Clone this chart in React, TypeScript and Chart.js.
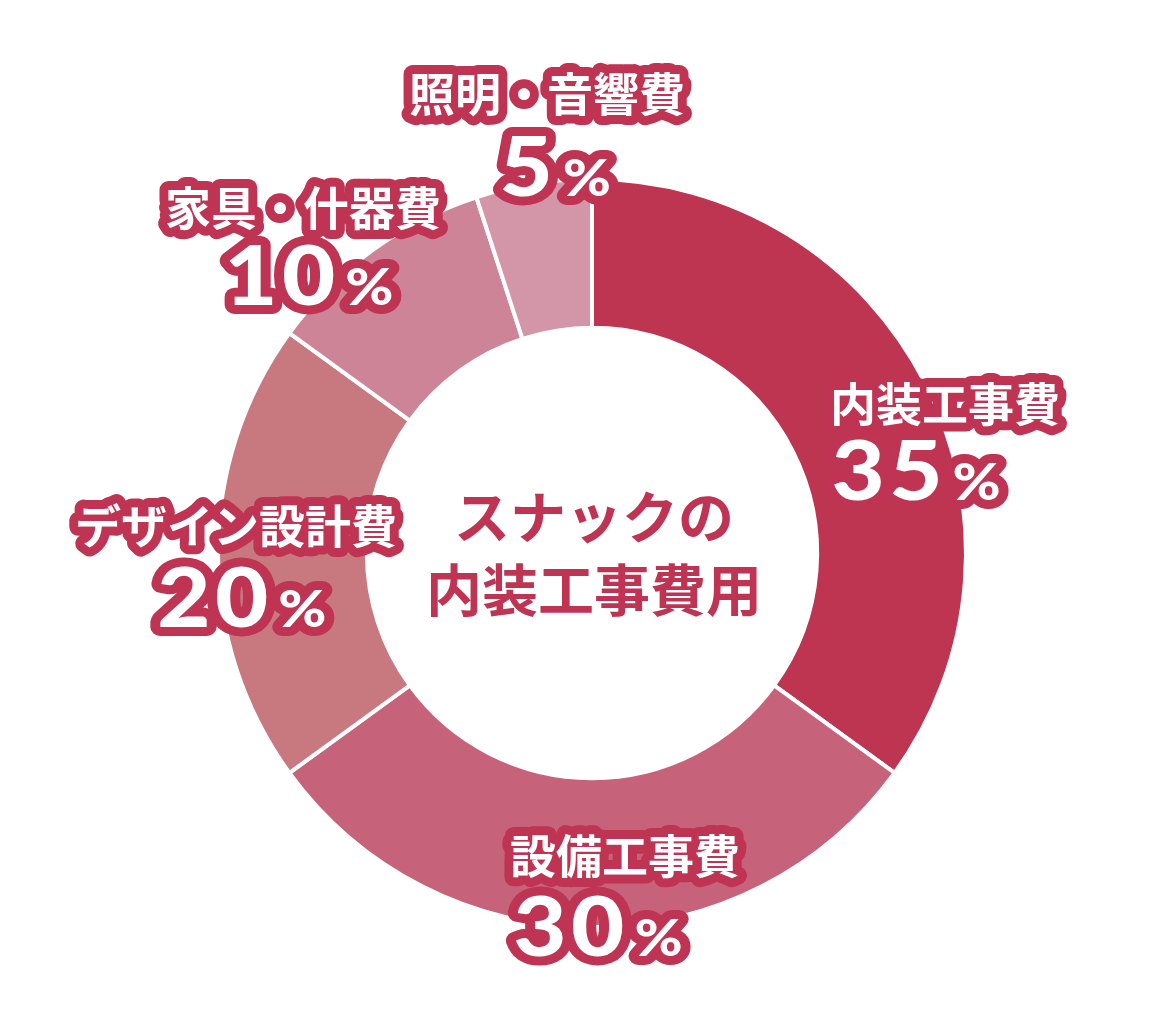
import { useEffect, useRef } from 'react';
import { Chart, ArcElement, DoughnutController } from 'chart.js';

Chart.register(ArcElement, DoughnutController);

// ---- data ----
const categories = ['内装工事費', '設備工事費', 'デザイン設計費', '家具・什器費', '照明・音響費'];
const values = [35, 30, 20, 10, 5];
const centerTitle = ['スナックの', '内装工事費用'];

// ---- styles / layout ----
const segmentColors = ['#BD3550', '#C6637B', '#C8787F', '#CE8497', '#D396A8'];
const accent = '#BE3452';
// label anchor offsets relative to the doughnut centre, in units of the outer radius
const labelLayout = [
  { tx: 0.949, ty: -0.403, px: 0.871, py: -0.19 },
  { tx: 0.089, ty: 0.812, px: 0.016, py: 1.036 },
  { tx: -0.957, ty: -0.075, px: -0.941, py: 0.152 },
  { tx: -0.777, ty: -0.93, px: -0.761, py: -0.712 },
  { tx: -0.121, ty: -1.234, px: -0.099, py: -1.005 },
];

const CJK = "'Noto Sans CJK JP', 'Noto Sans CJK SC', sans-serif";
const NUM = "Lato, 'Noto Sans', sans-serif";

const labelPlugin = {
  id: 'segmentLabels',
  afterDraw(chart: any) {
    const ctx: CanvasRenderingContext2D = chart.ctx;
    const meta = chart.getDatasetMeta(0);
    const arc0: any = meta.data[0];
    if (!arc0) return;
    const cx = arc0.x;
    const cy = arc0.y;
    const R = 372;

    ctx.save();
    // centre title
    ctx.fillStyle = accent;
    ctx.font = `700 56px ${CJK}`;
    ctx.textAlign = 'center';
    ctx.textBaseline = 'middle';
    ctx.fillText(centerTitle[0], cx + 2, cy - 36);
    ctx.fillText(centerTitle[1], cx + 2, cy + 37);

    type Piece = { text: string; x: number; y: number; font: string; ls: number; sx: number; align: CanvasTextAlign; base: CanvasTextBaseline };
    const pieces: Piece[] = [];
    const numFont = `900 82px ${NUM}`;
    const pctFont = `900 52px ${NUM}`;
    const numLS = 4;
    const sx = 1.12;
    const gap = 10;

    categories.forEach((cat, i) => {
      const L = labelLayout[i];
      pieces.push({ text: cat, x: cx + L.tx * R, y: cy + L.ty * R, font: `700 46px ${CJK}`, ls: 0, sx: 1, align: 'center', base: 'middle' });
      const num = String(values[i]);
      ctx.font = numFont;
      (ctx as any).letterSpacing = `${numLS}px`;
      const mNum = ctx.measureText(num);
      const numW = (mNum.width - numLS) * sx;
      const asc = mNum.actualBoundingBoxAscent;
      (ctx as any).letterSpacing = '0px';
      ctx.font = pctFont;
      const pctW = ctx.measureText('%').width * sx;
      const total = numW + gap + pctW;
      const gx = cx + L.px * R;
      const gy = cy + L.py * R;
      const startX = gx - total / 2;
      const baseline = gy + asc / 2;
      pieces.push({ text: num, x: startX, y: baseline, font: numFont, ls: numLS, sx, align: 'left', base: 'alphabetic' });
      pieces.push({ text: '%', x: startX + numW + gap, y: baseline, font: pctFont, ls: 0, sx, align: 'left', base: 'alphabetic' });
    });

    const draw = (p: Piece, stroke: boolean) => {
      ctx.save();
      ctx.font = p.font;
      (ctx as any).letterSpacing = `${p.ls}px`;
      ctx.textAlign = p.align;
      ctx.textBaseline = p.base;
      ctx.translate(p.x, p.y);
      ctx.scale(p.sx, 1);
      if (stroke) ctx.strokeText(p.text, 0, 0);
      else ctx.fillText(p.text, 0, 0);
      ctx.restore();
    };
    ctx.lineJoin = 'round';
    ctx.lineCap = 'round';
    ctx.strokeStyle = accent;
    ctx.lineWidth = 18;
    pieces.forEach((p) => draw(p, true));
    ctx.fillStyle = '#FFFFFF';
    pieces.forEach((p) => draw(p, false));
    ctx.restore();
  },
};

export default function App() {
  const ref = useRef<HTMLCanvasElement | null>(null);
  useEffect(() => {
    if (!ref.current) return;
    const chart = new Chart(ref.current, {
      type: 'doughnut',
      data: {
        labels: categories,
        datasets: [
          {
            data: values,
            backgroundColor: segmentColors,
            borderColor: '#FFFFFF',
            borderWidth: 4,
            hoverOffset: 0,
          },
        ],
      },
      options: {
        responsive: false,
        animation: false,
        radius: 374,
        cutout: '60.2%',
        layout: { padding: { left: 220, right: 202, top: 181, bottom: 106 } },
        plugins: { legend: { display: false }, tooltip: { enabled: false } },
        events: [],
      } as any,
      plugins: [labelPlugin],
    });
    return () => chart.destroy();
  }, []);
  return (
    <div style={{ position: 'fixed', left: 0, top: 0, width: 1166, height: 1031, background: '#FFFFFF' }}>
      <canvas ref={ref} width={1166} height={1031} style={{ width: 1166, height: 1031, display: 'block' }} />
    </div>
  );
}
